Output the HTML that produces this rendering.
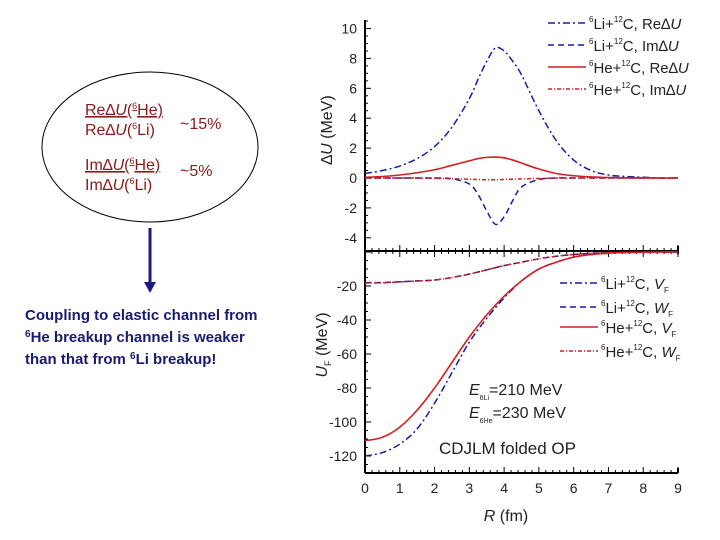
<!DOCTYPE html>
<html><head><meta charset="utf-8"><style>
html,body{margin:0;padding:0;background:#fff;}
svg{display:block;font-family:"Liberation Sans",Arial,sans-serif;}
</style></head><body>
<svg id="svg" width="720" height="540" viewBox="0 0 720 540" xmlns="http://www.w3.org/2000/svg">
<g>
  <ellipse cx="150" cy="147" rx="108" ry="75" fill="none" stroke="#000" stroke-width="1"/>
  <g fill="#8b1a1a" font-size="16">
    <text x="85" y="115" text-decoration="underline">Re∆<tspan font-style="italic">U</tspan>(<tspan font-size="9" dy="-6">6</tspan><tspan dy="6">He)</tspan></text>
    <text x="85" y="135">Re∆<tspan font-style="italic">U</tspan>(<tspan font-size="9" dy="-6">6</tspan><tspan dy="6">Li)</tspan></text>
    <text x="180" y="129">~15%</text>
    <text x="85" y="170" text-decoration="underline">Im∆<tspan font-style="italic">U</tspan>(<tspan font-size="9" dy="-6">6</tspan><tspan dy="6">He)</tspan></text>
    <text x="85" y="190">Im∆<tspan font-style="italic">U</tspan>(<tspan font-size="9" dy="-6">6</tspan><tspan dy="6">Li)</tspan></text>
    <text x="180" y="176">~5%</text>
  </g>
  <g>
    <line x1="150" y1="228" x2="150" y2="283" stroke="#1a1a80" stroke-width="3"/>
    <polygon points="144,282 156,282 150,293" fill="#1a1a80"/>
  </g>
  <g fill="#1a1a70" font-size="15" font-weight="bold">
    <text x="25" y="320">Coupling to elastic channel from</text>
    <text x="25" y="342"><tspan font-size="10" dy="-5">6</tspan><tspan dy="5">He breakup channel is weaker</tspan></text>
    <text x="25" y="364">than that from <tspan font-size="10" dy="-5">6</tspan><tspan dy="5">Li breakup!</tspan></text>
  </g>
</g>
<g id="chart"></g>
</svg>
<script>
// ---- data ----
const rTop = [0,0.5,1,1.5,2,2.5,3,3.25,3.5,3.75,4,4.25,4.5,5,5.5,6,6.5,7,7.5,8,8.5,9];
const liReDU = [0.3,0.5,0.8,1.3,2.1,3.4,5.3,6.6,7.8,8.7,8.5,7.8,6.9,4.5,2.5,1.2,0.5,0.2,0.1,0.05,0,0];
const liImDU = [0,0,0,0,0,-0.05,-0.4,-1.1,-2.2,-3.1,-2.6,-1.5,-0.6,-0.1,0,0,0,0,0,0,0,0];
const heReDU = [0.05,0.1,0.2,0.35,0.55,0.85,1.15,1.3,1.38,1.4,1.35,1.2,1.0,0.6,0.3,0.15,0.07,0.03,0.01,0,0,0];
const heImDU = [0,0,0,0,-0.02,-0.05,-0.08,-0.1,-0.12,-0.12,-0.1,-0.08,-0.06,-0.03,-0.01,0,0,0,0,0,0,0];
const rBot = [0,0.5,1,1.5,2,2.5,3,3.5,4,4.5,5,5.5,6,6.5,7,7.5,8,8.5,9];
const liVF = [-120,-118,-113,-104,-89,-71,-53,-39,-27,-17,-10,-6,-3,-1.5,-0.7,-0.3,-0.1,0,0];
const heVF = [-111,-109,-103,-93,-80,-65,-50,-37,-26,-17,-10,-6,-3,-1.5,-0.7,-0.3,-0.1,0,0];
const liWF = [-18,-18,-17.5,-17,-16.5,-15,-13,-10.5,-8,-6,-4,-2.5,-1.5,-0.8,-0.4,-0.2,-0.1,0,0];
const heWF = [-18.3,-18.1,-17.6,-17.1,-16.5,-15,-13,-10.5,-8,-6,-4,-2.5,-1.5,-0.8,-0.4,-0.2,-0.1,0,0];
const xTicks = [0,1,2,3,4,5,6,7,8,9];
const yTopTicks = [-4,-2,0,2,4,6,8,10];
const yBotTicks = [-120,-100,-80,-60,-40,-20];

// ---- scales ----
const X0=365, X1=678;
const sx = r => X0 + (r-0)/(9-0)*(X1-X0);
const syT = v => 178 - v*14.95;
const syB = v => 252 - v*(170/100);
const TOP=20, MID=251, BOT=473;
const NS="http://www.w3.org/2000/svg";
const chart=document.getElementById('chart');
function mk(tag, attrs, parent){const e=document.createElementNS(NS,tag);for(const k in attrs)e.setAttribute(k,attrs[k]);(parent||chart).appendChild(e);return e;}

function smooth(xs, ys, fx, fy){
  const p = xs.map((x,i)=>[fx(x),fy(ys[i])]);
  let d=`M${p[0][0]},${p[0][1]}`;
  for(let i=0;i<p.length-1;i++){
    const p0=p[Math.max(0,i-1)],p1=p[i],p2=p[i+1],p3=p[Math.min(p.length-1,i+2)];
    const c1=[p1[0]+(p2[0]-p0[0])/6,p1[1]+(p2[1]-p0[1])/6];
    const c2=[p2[0]-(p3[0]-p1[0])/6,p2[1]-(p3[1]-p1[1])/6];
    d+=`C${c1[0]},${c1[1]} ${c2[0]},${c2[1]} ${p2[0]},${p2[1]}`;
  }
  return d;
}

// axes
const ax=mk('g',{});


mk('line',{x1:X0,y1:TOP,x2:X0,y2:BOT,stroke:'#000','stroke-width':2},ax);
mk('line',{x1:X0,y1:MID,x2:X1,y2:MID,stroke:'#000','stroke-width':2},ax);
mk('line',{x1:X0,y1:BOT,x2:X1,y2:BOT,stroke:'#000','stroke-width':2},ax);
mk('line',{x1:X1,y1:MID-5,x2:X1,y2:MID+3,stroke:'#000','stroke-width':2},ax);
mk('line',{x1:X1,y1:BOT-5,x2:X1,y2:BOT,stroke:'#000','stroke-width':2},ax);
for(let i=0;i<=45;i++){
  const x=sx(i*0.2), major=i%5===0;
  const L=major?6:3;
  mk('line',{x1:x,y1:MID,x2:x,y2:MID-L,stroke:'#000','stroke-width':1},ax);
  mk('line',{x1:x,y1:MID,x2:x,y2:MID+L,stroke:'#000','stroke-width':1},ax);
  mk('line',{x1:x,y1:BOT,x2:x,y2:BOT-L,stroke:'#000','stroke-width':1},ax);
}
for(let v=-4;v<=10.5;v+=0.5){
  const major=Math.abs(v%2)<1e-9;
  mk('line',{x1:X0,y1:syT(v),x2:X0+(major?6:3),y2:syT(v),stroke:'#000','stroke-width':1},ax);
}
for(let v=-130;v<=0;v+=5){
  const major=v%20===0;
  mk('line',{x1:X0,y1:syB(v),x2:X0+(major?6:3),y2:syB(v),stroke:'#000','stroke-width':1},ax);
}
xTicks.forEach(t=>{
  const e=mk('text',{x:sx(t),y:493,'text-anchor':'middle','font-size':14,fill:'#222'},ax);
  
  
  e.textContent=t;
});
yTopTicks.forEach(t=>{
  const e=mk('text',{x:357,y:syT(t)+5,'text-anchor':'end','font-size':14,fill:'#222'},ax);
  
  
  e.textContent=t;
});
yBotTicks.forEach(t=>{
  const e=mk('text',{x:357,y:syB(t)+5,'text-anchor':'end','font-size':14,fill:'#222'},ax);
  
  
  e.textContent=t;
});
let t=mk('text',{x:506,y:521,'text-anchor':'middle','font-size':16,fill:'#222'},ax);


t.innerHTML='<tspan font-style="italic">R</tspan> (fm)';
t=mk('text',{transform:'translate(332,130) rotate(-90)','text-anchor':'middle','font-size':16,fill:'#222'},ax);


t.innerHTML='∆<tspan font-style="italic">U</tspan> (MeV)';
t=mk('text',{transform:'translate(327,345) rotate(-90)','text-anchor':'middle','font-size':16,fill:'#222'},ax);


t.innerHTML='<tspan font-style="italic">U</tspan><tspan font-size="9" dy="4">F</tspan><tspan dy="-4"> (MeV)</tspan>';

// series
const BLUE='#1a1aa0', RED='#d42020';
const dashDot='7,3,2,3', dash='6,4', dashDotDot='4,2,1,2';
function series(name,xs,ys,fx,fy,color,dasharray,w){
  const p=mk('path',{d:smooth(xs,ys,fx,fy),fill:'none',stroke:color,'stroke-width':w||1.5});
  if(dasharray)p.setAttribute('stroke-dasharray',dasharray);
  
  
}
series('li-re-du-line',rTop,liReDU,sx,syT,BLUE,dashDot);
series('li-im-du-line',rTop,liImDU,sx,syT,BLUE,dash);
series('he-re-du-line',rTop,heReDU,sx,syT,RED,null,1.6);
series('he-im-du-line',rTop,heImDU,sx,syT,RED,dashDotDot);
series('li-vf-line',rBot,liVF,sx,syB,BLUE,dashDot);
series('li-wf-line',rBot,liWF,sx,syB,BLUE,dash);
series('he-vf-line',rBot,heVF,sx,syB,RED,null,1.6);
series('he-wf-line',rBot,heWF,sx,syB,RED,dashDotDot);

// legends
function legend(name,x,y,color,dasharray,html){
  const g=mk('g',{});
  
  
  const l=mk('line',{x1:x,y1:y,x2:x+38,y2:y,stroke:color,'stroke-width':1.6},g);
  if(dasharray)l.setAttribute('stroke-dasharray',dasharray);
  const tx=mk('text',{x:x+41,y:y+6,'font-size':15,fill:'#222'},g);
  tx.innerHTML=html;
}
const sup=s=>`<tspan font-size="8" dy="-7">${s}</tspan><tspan dy="7">`;
legend('legend-li-re',548,23,BLUE,dashDot,`${sup('6')}Li+</tspan>${sup('12')}C, Re∆<tspan font-style="italic">U</tspan></tspan>`);
legend('legend-li-im',548,45,BLUE,dash,`${sup('6')}Li+</tspan>${sup('12')}C, Im∆<tspan font-style="italic">U</tspan></tspan>`);
legend('legend-he-re',548,67,RED,null,`${sup('6')}He+</tspan>${sup('12')}C, Re∆<tspan font-style="italic">U</tspan></tspan>`);
legend('legend-he-im',548,89,RED,dashDotDot,`${sup('6')}He+</tspan>${sup('12')}C, Im∆<tspan font-style="italic">U</tspan></tspan>`);
const sub=s=>`<tspan font-size="8" dy="4">${s}</tspan>`;
legend('legend-li-vf',560,283,BLUE,dashDot,`${sup('6')}Li+</tspan>${sup('12')}C, <tspan font-style="italic">V</tspan>${sub('F')}</tspan>`);
legend('legend-li-wf',560,307,BLUE,dash,`${sup('6')}Li+</tspan>${sup('12')}C, <tspan font-style="italic">W</tspan>${sub('F')}</tspan>`);
legend('legend-he-vf',560,327,RED,null,`${sup('6')}He+</tspan>${sup('12')}C, <tspan font-style="italic">V</tspan>${sub('F')}</tspan>`);
legend('legend-he-wf',560,351,RED,dashDotDot,`${sup('6')}He+</tspan>${sup('12')}C, <tspan font-style="italic">W</tspan>${sub('F')}</tspan>`);

// annotations
t=mk('text',{x:469,y:395,'font-size':16,fill:'#222'});


t.innerHTML='<tspan font-style="italic">E</tspan><tspan font-size="7" dy="5">6Li</tspan><tspan dy="-5">=210 MeV</tspan>';
t=mk('text',{x:469,y:418,'font-size':16,fill:'#222'});


t.innerHTML='<tspan font-style="italic">E</tspan><tspan font-size="7" dy="5">6He</tspan><tspan dy="-5">=230 MeV</tspan>';
t=mk('text',{x:439,y:454,'font-size':17,fill:'#222'});


t.textContent='CDJLM folded OP';
</script>
</body></html>
